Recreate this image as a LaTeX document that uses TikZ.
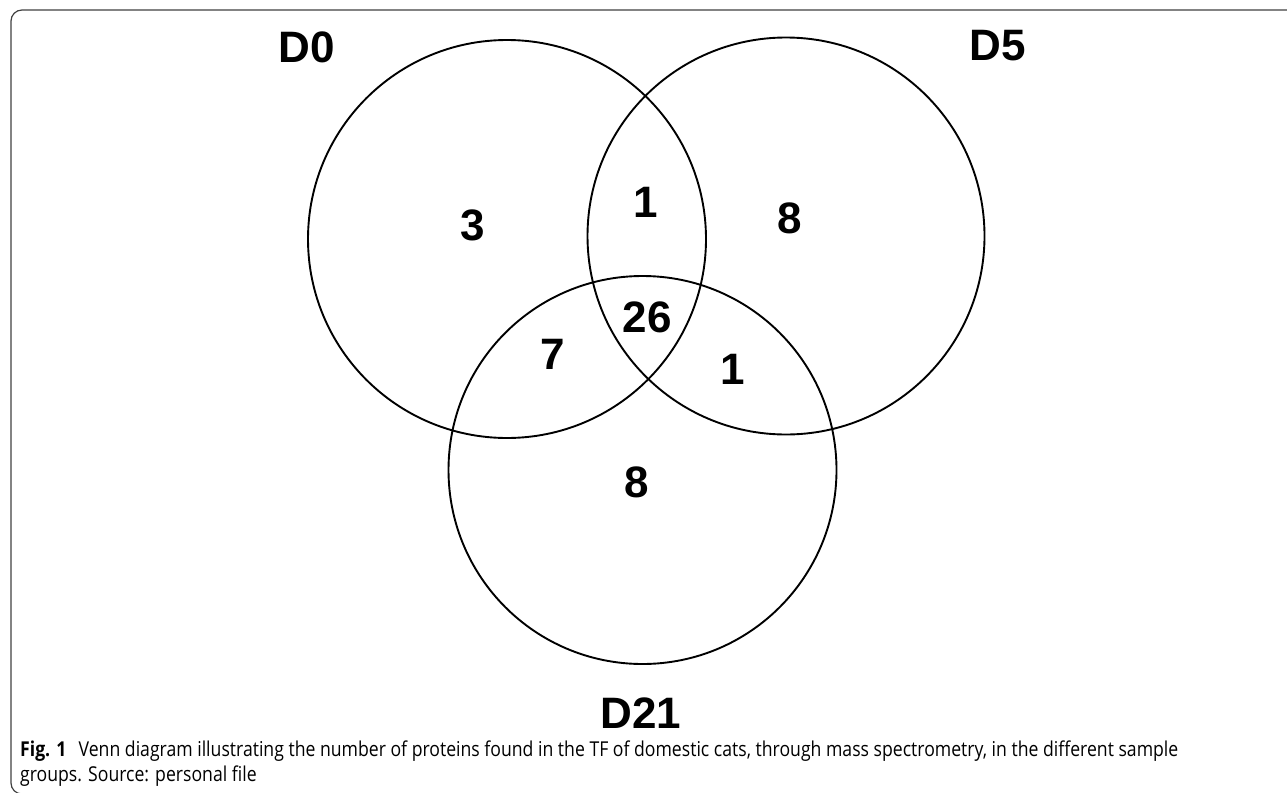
\documentclass[tikz,border=0pt]{standalone}
\usepackage{fontspec}
\setmainfont{Liberation Sans}
\newfontfamily\capfont[FakeStretch=0.86]{Open Sans}
\begin{document}
\begin{tikzpicture}[x=1pt,y=-1pt,
  venn/.style={circle,draw=black,line width=1.9pt,inner sep=0pt,minimum size=#1},
  lbl/.style={font=\fontsize{44}{48}\selectfont\bfseries,inner sep=0pt,text=black},
  num/.style={font=\fontsize{44}{48}\selectfont\bfseries,inner sep=0pt,text=black},
  captext/.style={font=\capfont\fontsize{20.5}{24}\selectfont,inner sep=0pt,anchor=base west,text=black},
  frame/.style={draw=black!75,line width=1.2pt,rounded corners=11pt}]
\useasboundingbox (0,0) rectangle (1287,792);
\begin{scope}
\clip (0,0) rectangle (1287,792);
\draw[frame] (1310,10) -- (11,10) -- (11,794) -- (1310,794);
\end{scope}
\node[venn=398pt] (c0) at (507,239) {};
\node[venn=397pt] (c5) at (786,236) {};
\node[venn=388pt] (c21) at (642.5,470) {};
\node[lbl] (l0) at (307,47) {D0};
\node[lbl] (l5) at (998,46) {D5};
\node[lbl] (l21) at (641,713) {D21};
\node[num] (n3) at (473,225) {3};
\node[num] (n1a) at (646,202) {1};
\node[num] (n8a) at (790,218) {8};
\node[num] (n26) at (647,317) {26};
\node[num] (n7) at (553,354) {7};
\node[num] (n1b) at (733,369) {1};
\node[num] (n8b) at (637,482) {8};
\node[captext] (cap1) at (20,756) {\textbf{Fig. 1}\hspace{0.6em}Venn diagram illustrating the number of proteins found in the TF of domestic cats, through mass spectrometry, in the different sample};
\node[captext] (cap2) at (20,781) {groups. Source: personal file};
\end{tikzpicture}
\end{document}
